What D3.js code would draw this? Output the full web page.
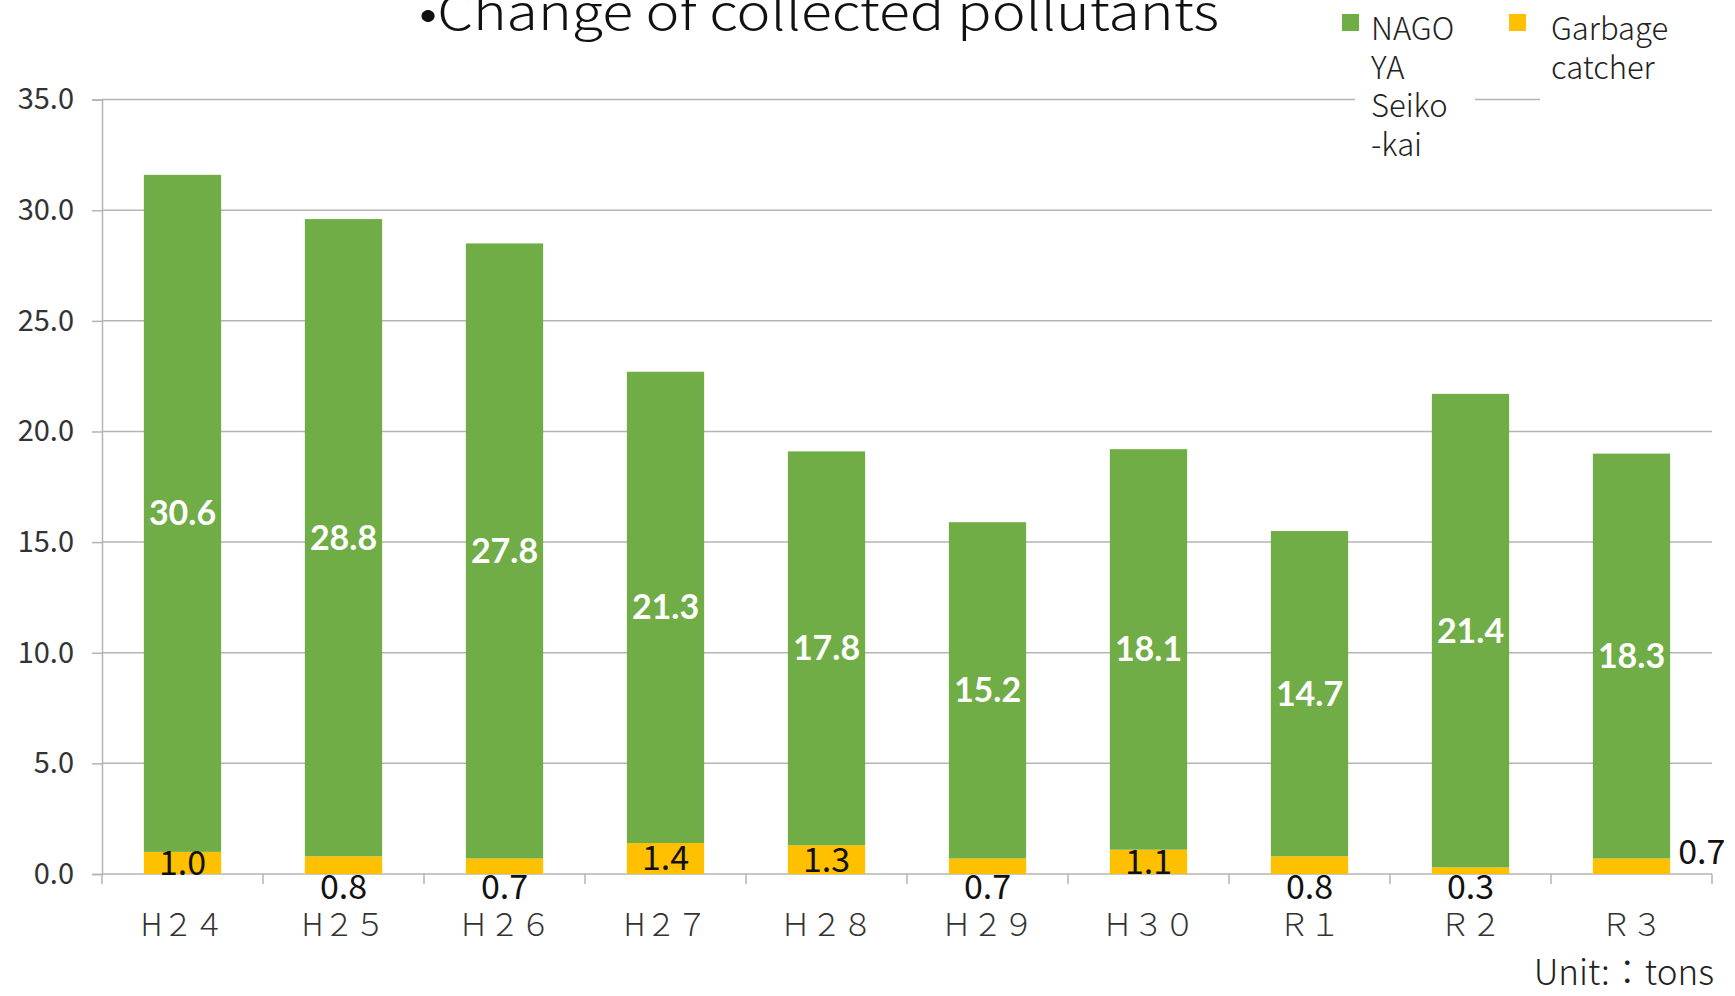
<!DOCTYPE html>
<html>
<head>
<meta charset="utf-8">
<script src="https://cdn.jsdelivr.net/npm/d3@7"></script>
<style>
  html, body { margin: 0; padding: 0; background: #fff; }
  svg { display: block; }
</style>
</head>
<body>
<svg id="chart" width="1735" height="996"></svg>
<script>
// data
const categories = ['H２４', 'H２５', 'Ｈ２６', 'H２７', 'Ｈ２８', 'Ｈ２９', 'Ｈ３０', 'Ｒ１', 'Ｒ２', 'Ｒ３']
const catcherValues = [1.0, 0.8, 0.7, 1.4, 1.3, 0.7, 1.1, 0.8, 0.3, 0.7]
const seikokaiValues = [30.6, 28.8, 27.8, 21.3, 17.8, 15.2, 18.1, 14.7, 21.4, 18.3]
const yTicks = [0, 5, 10, 15, 20, 25, 30, 35]
// where the small garbage catcher label sits
const catcherLabelPos = ['in', 'below', 'below', 'in', 'in', 'below', 'in', 'below', 'below', 'right']

const GREEN = '#70ad47'
const YELLOW = '#ffc000'
const GRID = '#b4b4b4'
const JP = '"Noto Sans CJK JP", "Noto Sans", sans-serif'

const svg = d3.select('#chart')

const x = d3.scaleBand().domain(categories).range([102, 1712]).paddingInner(0.52).paddingOuter(0.26)
const y = d3.scaleLinear().domain([0, 35]).range([874, 99.6])

// 网格线
svg.append('g')
  .selectAll('line')
  .data(yTicks.slice(1))
  .join('line')
  .attr('x1', 102).attr('x2', 1712)
  .attr('y1', d => y(d)).attr('y2', d => y(d))
  .attr('stroke', GRID).attr('stroke-width', 1.5)

// y axis
const yAxis = d3.axisLeft(y).tickValues(yTicks).tickSize(10).tickPadding(18).tickFormat(d3.format('.1f'))
const yAxisG = svg.append('g').attr('transform', 'translate(102,0)').call(yAxis)
yAxisG.select('.domain').attr('stroke', GRID).attr('stroke-width', 1.5)
yAxisG.selectAll('.tick line').attr('stroke', GRID).attr('stroke-width', 1.5)
yAxisG.selectAll('.tick text')
  .attr('font-family', JP).attr('font-size', 29).attr('fill', '#333')

// x axis: ticks between categories
const step = x.step()
svg.append('g')
  .selectAll('line')
  .data(d3.range(categories.length + 1))
  .join('line')
  .attr('x1', i => 102 + i * step).attr('x2', i => 102 + i * step)
  .attr('y1', y(0)).attr('y2', y(0) + 10)
  .attr('stroke', GRID).attr('stroke-width', 1.5)
svg.append('line')
  .attr('x1', 102).attr('x2', 1712).attr('y1', y(0)).attr('y2', y(0))
  .attr('stroke', GRID).attr('stroke-width', 1.5)

svg.append('g')
  .selectAll('text')
  .data(categories)
  .join('text')
  .attr('x', d => x(d) + x.bandwidth() / 2)
  .attr('y', 936)
  .attr('text-anchor', 'middle')
  .attr('font-family', JP).attr('font-weight', 300).attr('font-size', 31).attr('fill', '#333')
  .text(d => d)

// bars
const rows = categories.map((c, i) => ({ cat: c, low: catcherValues[i], top: seikokaiValues[i], pos: catcherLabelPos[i] }))

const gBars = svg.append('g')
gBars.selectAll('rect.catcher')
  .data(rows)
  .join('rect')
  .attr('class', 'catcher')
  .attr('x', d => x(d.cat)).attr('width', x.bandwidth())
  .attr('y', d => y(d.low)).attr('height', d => y(0) - y(d.low))
  .attr('fill', YELLOW)
gBars.selectAll('rect.seiko')
  .data(rows)
  .join('rect')
  .attr('class', 'seiko')
  .attr('x', d => x(d.cat)).attr('width', x.bandwidth())
  .attr('y', d => y(d.low + d.top)).attr('height', d => y(d.low) - y(d.low + d.top))
  .attr('fill', GREEN)

// labels
svg.append('g')
  .selectAll('text')
  .data(rows)
  .join('text')
  .attr('x', d => x(d.cat) + x.bandwidth() / 2)
  .attr('y', d => y(d.low + d.top / 2))
  .attr('dy', '0.35em')
  .attr('text-anchor', 'middle')
  .attr('font-family', 'Lato, "Open Sans", sans-serif').attr('font-weight', 700)
  .attr('font-size', 34).attr('fill', '#fff')
  .text(d => d3.format('.1f')(d.top))

svg.append('g')
  .selectAll('text')
  .data(rows)
  .join('text')
  .attr('x', d => d.pos === 'right' ? x(d.cat) + x.bandwidth() + 8 : x(d.cat) + x.bandwidth() / 2)
  .attr('y', d => d.pos === 'in' ? y(d.low / 2) : d.pos === 'below' ? y(0) + 13 : y(d.low) - 6)
  .attr('dy', '0.35em')
  .attr('text-anchor', d => d.pos === 'right' ? 'start' : 'middle')
  .attr('font-family', JP).attr('font-size', 34).attr('fill', '#111')
  .text(d => d3.format('.1f')(d.low))

// title
svg.append('text')
  .attr('x', 819).attr('y', 30)
  .attr('text-anchor', 'middle')
  .attr('font-family', JP).attr('font-weight', 300).attr('font-size', 48).attr('fill', '#111')
  .attr('textLength', 800).attr('lengthAdjust', 'spacingAndGlyphs')
  .text('•Change of collected pollutants')

// legend
const legend = svg.append('g')
legend.append('rect').attr('x', 1355).attr('y', 0).attr('width', 120).attr('height', 170).attr('fill', '#fff')
legend.append('rect').attr('x', 1540).attr('y', 0).attr('width', 195).attr('height', 110).attr('fill', '#fff')
const legendItems = [
  { color: GREEN, x: 1342, dx: 29, lines: ['NAGO', 'YA', 'Seiko', '-kai'] },
  { color: YELLOW, x: 1509, dx: 42, lines: ['Garbage', 'catcher'] },
]
legendItems.forEach(item => {
  legend.append('rect')
    .attr('x', item.x).attr('y', 14).attr('width', 17).attr('height', 17)
    .attr('fill', item.color)
  item.lines.forEach((line, i) => {
    legend.append('text')
      .attr('x', item.x + item.dx)
      .attr('y', 40 + i * 38.7)
      .attr('font-family', JP).attr('font-weight', 300).attr('font-size', 31).attr('fill', '#222')
      .text(line)
  })
})

// unit
svg.append('text')
  .attr('x', 1714).attr('y', 985)
  .attr('text-anchor', 'end')
  .attr('font-family', JP).attr('font-weight', 300).attr('font-size', 35).attr('fill', '#222')
  .text('Unit:：tons')
</script>
</body>
</html>
